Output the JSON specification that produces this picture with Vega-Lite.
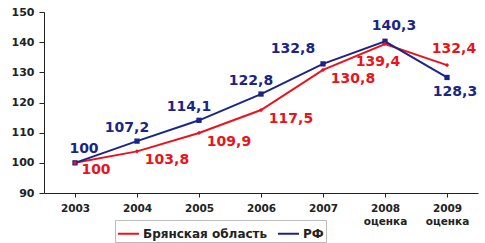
{
  "$schema": "https://vega.github.io/schema/vega-lite/v6.json",
  "autosize": "none",
  "width": 434,
  "height": 181,
  "padding": {"left": 44, "top": 12, "right": 7, "bottom": 50},
  "background": "white",
  "config": {
    "view": {"stroke": null},
    "font": "DejaVu Sans",
    "locale": {"number": {"decimal": ",", "thousands": " ", "grouping": [3], "currency": ["", " ₽"]}},
    "axis": {"labelFont": "DejaVu Sans", "labelFontWeight": "bold", "labelColor": "#222", "domainColor": "#222", "tickColor": "#222", "grid": false}
  },
  "data": {"values": [
    {"year": "2003", "series": "Брянская область", "value": 100},
    {"year": "2004", "series": "Брянская область", "value": 103.8},
    {"year": "2005", "series": "Брянская область", "value": 109.9},
    {"year": "2006", "series": "Брянская область", "value": 117.5},
    {"year": "2007", "series": "Брянская область", "value": 130.8},
    {"year": "2008 оценка", "series": "Брянская область", "value": 139.4},
    {"year": "2009 оценка", "series": "Брянская область", "value": 132.4},
    {"year": "2003", "series": "РФ", "value": 100},
    {"year": "2004", "series": "РФ", "value": 107.2},
    {"year": "2005", "series": "РФ", "value": 114.1},
    {"year": "2006", "series": "РФ", "value": 122.8},
    {"year": "2007", "series": "РФ", "value": 132.8},
    {"year": "2008 оценка", "series": "РФ", "value": 140.3},
    {"year": "2009 оценка", "series": "РФ", "value": 128.3}
  ]},
  "encoding": {
    "x": {"field": "year", "type": "nominal", "sort": null,
      "scale": {"paddingInner": 0, "paddingOuter": 0},
      "axis": {"title": null, "labelAngle": 0, "bandPosition": 0, "labelFontSize": 10.5, "labelPadding": 6, "tickSize": 4, "labelExpr": "split(datum.label, ' ')", "labelLineHeight": 13}},
    "y": {"field": "value", "type": "quantitative",
      "scale": {"domain": [90, 150], "nice": false, "zero": false},
      "axis": {"title": null, "values": [90, 100, 110, 120, 130, 140, 150], "labelFontSize": 11, "tickSize": 5, "labelPadding": 5}},
    "color": {"field": "series", "type": "nominal",
      "scale": {"domain": ["Брянская область", "РФ"], "range": ["#e8141c", "#1b2585"]},
      "legend": {"orient": "none", "legendX": 71, "legendY": 208, "direction": "horizontal", "title": null,
          "symbolType": "stroke", "symbolSize": 440, "symbolStrokeWidth": 2, "strokeColor": "#bbb", "padding": 2,
          "labelFont": "DejaVu Sans", "labelFontWeight": "bold", "labelFontSize": 12, "labelColor": "#222", "columnPadding": 6, "labelOffset": 3}}
  },
  "layer": [
    {"mark": {"type": "line", "strokeWidth": 2}},
    {"transform": [{"filter": "datum.series == 'РФ'"}],
     "mark": {"type": "point", "shape": "square", "size": 28, "opacity": 1, "filled": true}},
    {"transform": [{"filter": "datum.series != 'РФ'"}],
     "mark": {"type": "point", "shape": "diamond", "size": 18, "opacity": 1, "filled": true}},
    {"transform": [{"filter": "datum.series == 'РФ' && datum.year == '2003'"}],
     "mark": {"type": "text", "fontWeight": "bold", "fontSize": 14, "dx": 9, "dy": -14},
     "encoding": {"text": {"field": "value", "type": "quantitative", "format": ".1~f"}}},
    {"transform": [{"filter": "datum.series == 'РФ' && (datum.year == '2004' || datum.year == '2005' || datum.year == '2006')"}],
     "mark": {"type": "text", "fontWeight": "bold", "fontSize": 14, "dx": -10, "dy": -13},
     "encoding": {"text": {"field": "value", "type": "quantitative", "format": ".1f"}}},
    {"transform": [{"filter": "datum.series == 'РФ' && datum.year == '2007'"}],
     "mark": {"type": "text", "fontWeight": "bold", "fontSize": 14, "dx": -30, "dy": -15},
     "encoding": {"text": {"field": "value", "type": "quantitative", "format": ".1f"}}},
    {"transform": [{"filter": "datum.series == 'РФ' && datum.year == '2008 оценка'"}],
     "mark": {"type": "text", "fontWeight": "bold", "fontSize": 14, "dx": 9, "dy": -15},
     "encoding": {"text": {"field": "value", "type": "quantitative", "format": ".1f"}}},
    {"transform": [{"filter": "datum.series == 'РФ' && datum.year == '2009 оценка'"}],
     "mark": {"type": "text", "fontWeight": "bold", "fontSize": 14, "dx": 8, "dy": 15},
     "encoding": {"text": {"field": "value", "type": "quantitative", "format": ".1f"}}},
    {"transform": [{"filter": "datum.series != 'РФ' && datum.year == '2003'"}],
     "mark": {"type": "text", "fontWeight": "bold", "fontSize": 14, "dx": 21, "dy": 7},
     "encoding": {"text": {"field": "value", "type": "quantitative", "format": ".1~f"}}},
    {"transform": [{"filter": "datum.series != 'РФ' && (datum.year == '2004' || datum.year == '2005' || datum.year == '2006' || datum.year == '2007')"}],
     "mark": {"type": "text", "fontWeight": "bold", "fontSize": 14, "dx": 30, "dy": 9},
     "encoding": {"text": {"field": "value", "type": "quantitative", "format": ".1f"}}},
    {"transform": [{"filter": "datum.series != 'РФ' && datum.year == '2008 оценка'"}],
     "mark": {"type": "text", "fontWeight": "bold", "fontSize": 14, "dx": -7, "dy": 18},
     "encoding": {"text": {"field": "value", "type": "quantitative", "format": ".1f"}}},
    {"transform": [{"filter": "datum.series != 'РФ' && datum.year == '2009 оценка'"}],
     "mark": {"type": "text", "fontWeight": "bold", "fontSize": 14, "dx": 7, "dy": -16},
     "encoding": {"text": {"field": "value", "type": "quantitative", "format": ".1f"}}}
  ]
}
